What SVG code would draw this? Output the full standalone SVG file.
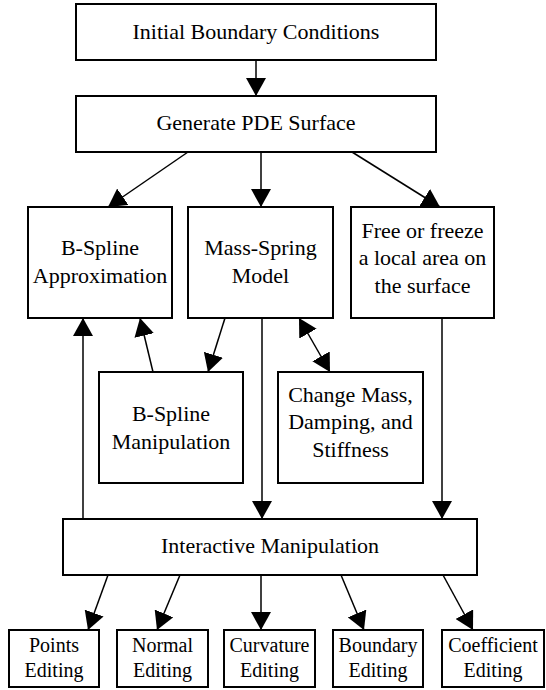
<svg xmlns="http://www.w3.org/2000/svg" width="546" height="690" viewBox="0 0 546 690">
<style>
.box{fill:#fff;stroke:#000;stroke-width:2}
.t{font-family:'Liberation Serif','Tinos','DejaVu Serif',serif;font-size:22px;fill:#000;text-anchor:middle}
.s{font-size:20px}
.c{fill:none;stroke:#000;stroke-width:1.5;marker-end:url(#ah)}
</style>
<defs>
<marker id="ah" viewBox="0 0 18 20" markerWidth="18" markerHeight="20" refX="18" refY="10" orient="auto-start-reverse" markerUnits="userSpaceOnUse">
<path d="M0,0 L18,10 L0,20 z" fill="#000"/>
</marker>
</defs>
<rect width="546" height="690" fill="#fff"/>
<g id="connectors">
<line class="c" x1="256" y1="60" x2="256" y2="96"/>
<line class="c" x1="188" y1="152" x2="108" y2="207"/>
<line class="c" x1="261" y1="152" x2="261" y2="207"/>
<line class="c" x1="352" y1="152" x2="440" y2="207"/>
<line class="c" x1="83" y1="519" x2="83" y2="318"/>
<line class="c" x1="153" y1="372" x2="140" y2="318"/>
<line class="c" x1="225" y1="318" x2="208" y2="372"/>
<line class="c" x1="299" y1="318" x2="330" y2="372" style="marker-start:url(#ah)"/>
<line class="c" x1="262" y1="318" x2="262" y2="519"/>
<line class="c" x1="442" y1="318" x2="442" y2="519"/>
<line class="c" x1="108" y1="575" x2="88" y2="630"/>
<line class="c" x1="180" y1="575" x2="157" y2="630"/>
<line class="c" x1="261" y1="575" x2="261" y2="630"/>
<line class="c" x1="341" y1="575" x2="364" y2="630"/>
<line class="c" x1="443" y1="575" x2="473" y2="630"/>
</g>
<g id="initial"><rect class="box" x="76" y="4" width="360" height="56"/><text class="t" x="256" y="39">Initial Boundary Conditions</text></g>
<g id="generate"><rect class="box" x="76" y="96" width="360" height="56"/><text class="t" x="256" y="130">Generate PDE Surface</text></g>
<g id="bspline-approx"><rect class="box" x="28" y="207" width="144" height="111"/><text class="t" x="100" y="255">B-Spline</text><text class="t" x="100" y="283">Approximation</text></g>
<g id="mass-spring"><rect class="box" x="188" y="207" width="145" height="111"/><text class="t" x="260.5" y="255">Mass-Spring</text><text class="t" x="260.5" y="283">Model</text></g>
<g id="free-freeze"><rect class="box" x="351" y="207" width="143" height="111"/><text class="t" x="422.5" y="238">Free or freeze</text><text class="t" x="422.5" y="265">a local area on</text><text class="t" x="422.5" y="293">the surface</text></g>
<g id="bspline-manip"><rect class="box" x="99" y="372" width="144" height="111"/><text class="t" x="171" y="421">B-Spline</text><text class="t" x="171" y="449">Manipulation</text></g>
<g id="change-mass"><rect class="box" x="278" y="372" width="145" height="111"/><text class="t" x="350.5" y="402">Change Mass,</text><text class="t" x="350.5" y="429">Damping, and</text><text class="t" x="350.5" y="457">Stiffness</text></g>
<g id="interactive"><rect class="box" x="63" y="519" width="414" height="56"/><text class="t" x="270" y="553">Interactive Manipulation</text></g>
<g id="points"><rect class="box" x="9" y="630" width="90" height="57"/><text class="t s" x="54" y="652">Points</text><text class="t s" x="54" y="677">Editing</text></g>
<g id="normal"><rect class="box" x="117" y="630" width="91" height="57"/><text class="t s" x="162.5" y="652">Normal</text><text class="t s" x="162.5" y="677">Editing</text></g>
<g id="curvature"><rect class="box" x="224" y="630" width="91" height="57"/><text class="t s" x="269.5" y="652">Curvature</text><text class="t s" x="269.5" y="677">Editing</text></g>
<g id="boundary"><rect class="box" x="333" y="630" width="90" height="57"/><text class="t s" x="378" y="652">Boundary</text><text class="t s" x="378" y="677">Editing</text></g>
<g id="coefficient"><rect class="box" x="442" y="630" width="102" height="57"/><text class="t s" x="493" y="652">Coefficient</text><text class="t s" x="493" y="677">Editing</text></g>
</svg>
